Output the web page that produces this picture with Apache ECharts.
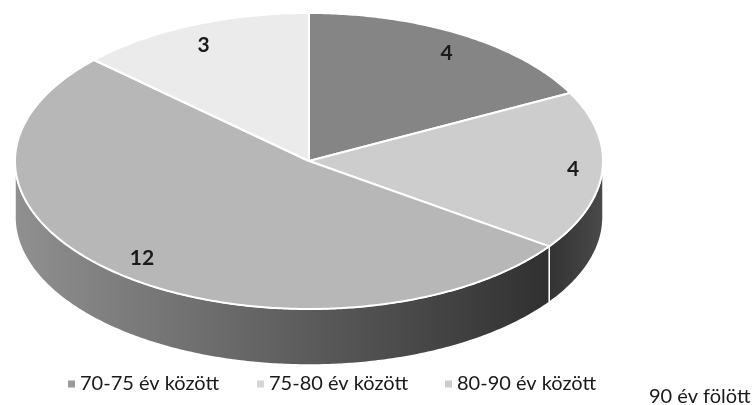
<!DOCTYPE html>
<html>
<head>
<meta charset="utf-8">
<script src="https://cdn.jsdelivr.net/npm/echarts@6/dist/echarts.min.js"></script>
<style>
html,body{margin:0;padding:0;background:#fff;}
#chart{width:752px;height:405px;}
</style>
</head>
<body>
<div id="chart"></div>
<script>
// ---- data ----
const categories = ['70-75 év között', '75-80 év között', '80-90 év között', '90 év fölött'];
const values = [4, 4, 12, 3];

// ---- styles ----
const topColors = ['#858585', '#cdcdcd', '#b7b7b7', '#ebebeb'];
const sideColors = [
  ['#555555', '#444444'],
  ['#333333', '#4a4a4a'],
  ['#909090', '#303030'],
  ['#cfcfcf', '#bdbdbd']
];
const legendIconColors = ['#9a9a9a', '#d4d4d4', '#cccccc', '#ffffff'];

const CX = 309, CY = 161, RX = 294, RY = 148, DEPTH = 56;

const total = values.reduce((a, b) => a + b, 0);
const starts = [];
let acc = 0;
values.forEach(v => { starts.push(acc / total * 2 * Math.PI); acc += v; });
const ends = values.map((v, i) => starts[i] + v / total * 2 * Math.PI);

function pt(t, dy) { return [CX + RX * Math.sin(t), CY - RY * Math.cos(t) + (dy || 0)]; }
function arcPts(a0, a1, dy) {
  const n = Math.max(2, Math.ceil((a1 - a0) / 0.01));
  const pts = [];
  for (let k = 0; k <= n; k++) pts.push(pt(a0 + (a1 - a0) * k / n, dy));
  return pts;
}

function sideRender(i) {
  return function (params, api) {
    const a0 = Math.max(starts[i], Math.PI / 2);
    const a1 = Math.min(ends[i], Math.PI * 1.5);
    if (a1 <= a0) return { type: 'group', children: [] };
    const topArc = arcPts(a0, a1, 0);
    const botArc = arcPts(a0, a1, DEPTH).reverse();
    return {
      type: 'polygon',
      shape: { points: topArc.concat(botArc) },
      style: {
        fill: new echarts.graphic.LinearGradient(1, 0, 0, 0, [
          { offset: 0, color: sideColors[i][1] },
          { offset: 1, color: sideColors[i][0] }
        ]),
        stroke: '#ffffff',
        lineWidth: 1.5
      }
    };
  };
}

function topRender(i) {
  return function (params, api) {
    const pts = [[CX, CY]].concat(arcPts(starts[i], ends[i], 0));
    const mid = (starts[i] + ends[i]) / 2;
    const fx = 0.9, fy = 0.85;
    const lx = CX + RX * fx * Math.sin(mid);
    const ly = CY - RY * fy * Math.cos(mid);
    return {
      type: 'group',
      children: [
        {
          type: 'polygon',
          shape: { points: pts },
          style: { fill: topColors[i], stroke: '#ffffff', lineWidth: 2, lineJoin: 'round' }
        },
        {
          type: 'text',
          style: {
            text: String(api.value(0)),
            x: lx, y: ly,
            align: 'center', verticalAlign: 'middle',
            fontFamily: 'Lato', fontSize: 21, fontWeight: 'bold',
            fill: '#1a1a1a'
          }
        }
      ]
    };
  };
}

const series = [];
categories.forEach((name, i) => {
  series.push({
    type: 'custom', name: name, coordinateSystem: 'none', z: 1,
    itemStyle: { color: legendIconColors[i] },
    data: [values[i]], renderItem: sideRender(i), silent: true, animation: false
  });
});
categories.forEach((name, i) => {
  series.push({
    type: 'custom', name: name, coordinateSystem: 'none', z: 2,
    itemStyle: { color: legendIconColors[i] },
    data: [values[i]], renderItem: topRender(i), silent: true, animation: false
  });
});

const legendText = { fontFamily: 'Lato', fontSize: 20, lineHeight: 20, color: '#1a1a1a' };
const legendLefts = [68, 257, 445, 637];
const legendTops = [374, 374, 374, 387];
const legends = categories.map((name, i) => ({
  data: [{ name: name, itemStyle: { color: legendIconColors[i], opacity: i === 3 ? 0 : 1 } }],
  left: legendLefts[i], top: legendTops[i],
  padding: 0,
  icon: 'rect', itemWidth: 7, itemHeight: 7, itemGap: 0,
  selectedMode: false,
  textStyle: legendText
}));

const chart = echarts.init(document.getElementById('chart'), null, { renderer: 'canvas' });
chart.setOption({
  backgroundColor: '#ffffff',
  animation: false,
  legend: legends,
  series: series
});
</script>
</body>
</html>
